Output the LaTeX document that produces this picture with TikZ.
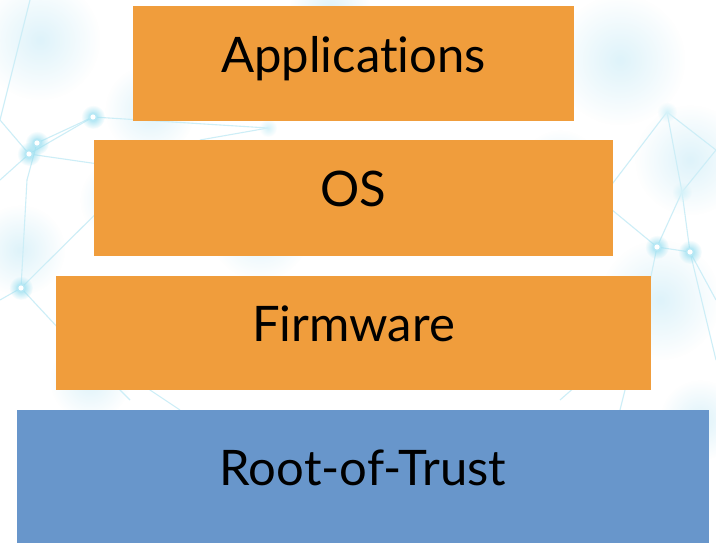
\documentclass[tikz,border=0pt]{standalone}
\usepackage{fontspec}
\setmainfont{Lato}[Ligatures=NoCommon]
\usetikzlibrary{fadings}
\tikzfading[name=softglow, inner color=transparent!0, outer color=transparent!100]
\definecolor{layerorange}{RGB}{240,157,60}
\definecolor{layerblue}{RGB}{104,150,203}
\definecolor{netline}{RGB}{205,238,247}
\definecolor{nethaze}{RGB}{214,240,249}
\definecolor{netglow}{RGB}{150,222,240}
\tikzset{
  layer/.style={rectangle, inner sep=0pt, font=\fontsize{49}{59}\selectfont, text=black,
                text height=35pt, text depth=18pt},
  netedge/.style={draw=netline, line width=1.1pt},
  haze/.style={fill=nethaze, path fading=softglow, opacity=0.8},
}
\newcommand{\glowdot}[2]{%
  \fill[netglow, path fading=softglow] (#1,#2) circle (12);
  \fill[netglow!70] (#1,#2) circle (4.5);
  \fill[white] (#1,#2) circle (2.6);
}
\begin{document}
\begin{tikzpicture}[x=1pt,y=-1pt]
\useasboundingbox (0,0) rectangle (716,543);
\fill[white] (0,0) rectangle (716,543);
% soft haze in the backdrop
\foreach \cx/\cy/\r in {40/40/60, 150/110/45, 260/230/50, 20/250/45, 620/60/65, 690/160/55, 660/300/60, 560/170/40, 700/420/40, 120/200/40, 330/10/40, 90/380/40}
  \fill[haze] (\cx,\cy) circle (\r);
% faint network of links
\coordinate (n1) at (29,154);
\coordinate (n2) at (37,143);
\coordinate (n3) at (93,117);
\coordinate (n4) at (21,288);
\coordinate (n5) at (27,180);
\coordinate (n6) at (0,300);
\coordinate (n7) at (60,330);
\coordinate (n8) at (0,180);
\coordinate (n9) at (657,247);
\coordinate (n10) at (690,252);
\coordinate (n11) at (667,112);
\coordinate (n12) at (682,192);
\coordinate (n13) at (716,150);
\coordinate (n14) at (640,330);
\coordinate (n15) at (716,300);
\coordinate (n16) at (600,200);
\coordinate (n17) at (268,128);
\coordinate (n18) at (140,170);
\coordinate (n19) at (716,360);
\coordinate (n20) at (0,120);
\coordinate (n21) at (30,0);
\coordinate (n22) at (200,140);
\coordinate (n23) at (130,400);
\coordinate (n24) at (180,410);
\coordinate (n25) at (560,400);
\coordinate (n26) at (620,410);
\foreach \a/\b in {n1/n3, n2/n3, n1/n8, n1/n20, n4/n5, n4/n6, n4/n7, n4/n18, n3/n17, n17/n22, n1/n18, n5/n2,
                   n9/n10, n9/n12, n10/n12, n11/n12, n12/n13, n9/n14, n10/n15, n9/n16, n16/n11, n10/n19, n11/n13,
                   n7/n23, n7/n24, n14/n25, n14/n26, n21/n20}
  \draw[netedge] (\a) -- (\b);
\glowdot{29}{154}
\glowdot{37}{143}
\glowdot{93}{117}
\glowdot{21}{288}
\glowdot{657}{247}
\glowdot{690}{252}
\fill[netglow!40, path fading=softglow] (667,112) circle (10);
\fill[netglow!40, path fading=softglow] (682,192) circle (10);
\fill[netglow!40, path fading=softglow] (268,128) circle (9);
% stacked layers
\node[layer, fill=layerorange, minimum width=441, minimum height=115] (apps) at (353.5,64) {Applications};
\node[layer, fill=layerorange, minimum width=519, minimum height=115] (os) at (353.5,198) {OS};
\node[layer, fill=layerorange, minimum width=595, minimum height=114] (fw) at (353.5,333) {Firmware};
\node[layer, fill=layerblue, minimum width=692, minimum height=134] (rot) at (363,476.5) {Root-of-Trust};
\end{tikzpicture}
\end{document}
